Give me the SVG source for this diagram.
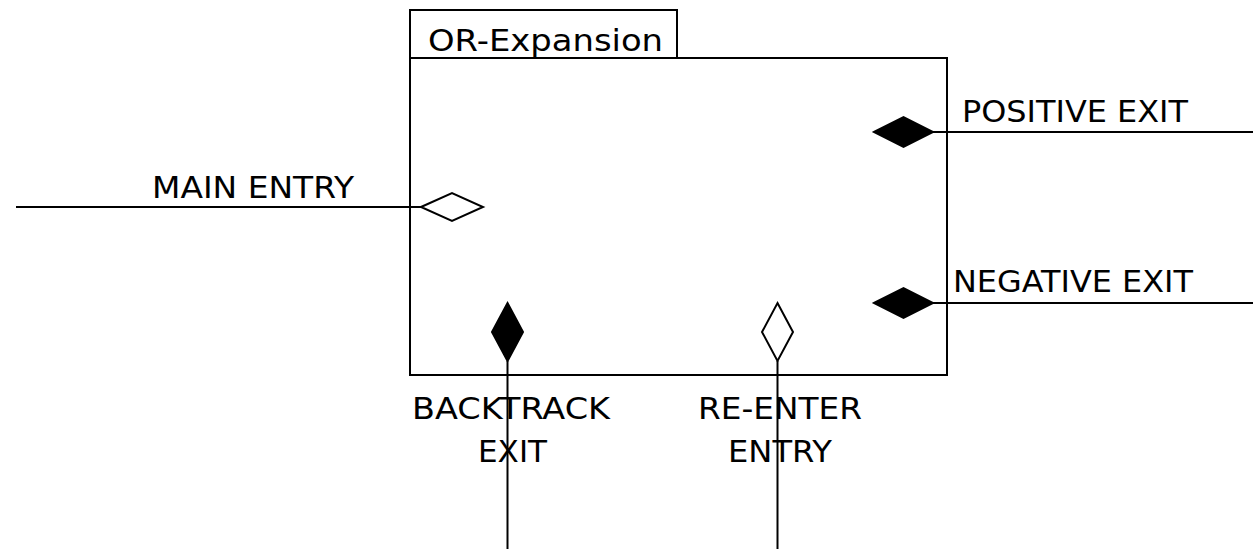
<svg xmlns="http://www.w3.org/2000/svg" width="1253" height="549" viewBox="0 0 1253 549">
<style>
.ln{stroke:#000;stroke-width:2;fill:none}
.box{stroke:#000;stroke-width:2;fill:#fff}
.fd{fill:#000;stroke:#000;stroke-width:2}
.od{fill:#fff;stroke:#000;stroke-width:2}
text{font-family:"DejaVu Sans","Liberation Sans",sans-serif;font-size:30px;fill:#000}
.m{text-anchor:middle}
</style>
<rect width="1253" height="549" fill="#fff"/>
<g id="or-expansion">
<rect class="box" x="410" y="10" width="267" height="48"/>
<rect class="box" x="410" y="58" width="537" height="317"/>
<text x="428" y="51" textLength="235" lengthAdjust="spacingAndGlyphs">OR-Expansion</text>
</g>
<g id="connectors">
<g id="main-entry">
<line class="ln" x1="16" y1="207" x2="421" y2="207"/>
<polygon class="od" points="421,207 452,193 483,207 452,221"/>
<text x="152" y="198" textLength="202" lengthAdjust="spacingAndGlyphs">MAIN ENTRY</text>
</g>
<g id="positive-exit">
<line class="ln" x1="933" y1="132" x2="1253" y2="132"/>
<polygon class="fd" points="874,132 903.5,117 933,132 903.5,147"/>
<text x="962" y="122" textLength="226" lengthAdjust="spacingAndGlyphs">POSITIVE EXIT</text>
</g>
<g id="negative-exit">
<line class="ln" x1="933" y1="303" x2="1253" y2="303"/>
<polygon class="fd" points="874,303 903.5,288 933,303 903.5,318"/>
<text x="953" y="292" textLength="240" lengthAdjust="spacingAndGlyphs">NEGATIVE EXIT</text>
</g>
<g id="backtrack-exit">
<line class="ln" x1="507.5" y1="361" x2="507.5" y2="549"/>
<polygon class="fd" points="507.5,303 523,332 507.5,361 492,332"/>
<text x="511" y="419" class="m" textLength="198" lengthAdjust="spacingAndGlyphs">BACKTRACK</text>
<text x="512.5" y="462" class="m" textLength="69" lengthAdjust="spacingAndGlyphs">EXIT</text>
</g>
<g id="re-enter-entry">
<line class="ln" x1="777.5" y1="361" x2="777.5" y2="549"/>
<polygon class="od" points="777.5,303 793,332 777.5,361 762,332"/>
<text x="780" y="419" class="m" textLength="164" lengthAdjust="spacingAndGlyphs">RE-ENTER</text>
<text x="780" y="462" class="m" textLength="104" lengthAdjust="spacingAndGlyphs">ENTRY</text>
</g>
</g>
</svg>
